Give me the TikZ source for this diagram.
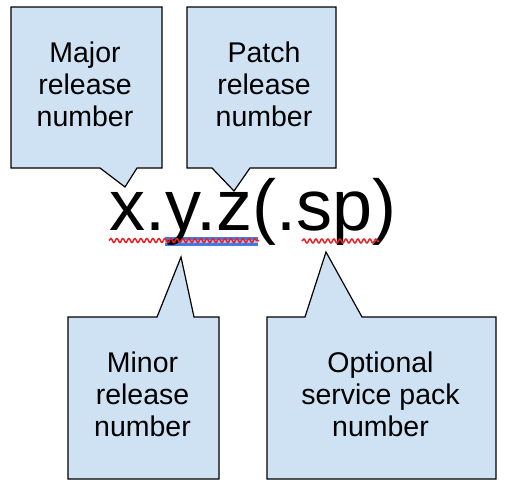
\documentclass[tikz,border=0pt]{standalone}
\usepackage{fontspec}
\setmainfont{Liberation Sans}
\usetikzlibrary{decorations.pathmorphing}
\definecolor{calloutfill}{RGB}{207,226,243}
\definecolor{wavered}{RGB}{235,32,38}
\definecolor{selblue}{RGB}{66,124,226}
\definecolor{sellight}{RGB}{160,190,240}
\tikzset{
  callout/.style={draw=black, fill=calloutfill, line width=1.2pt, line join=miter},
  calltext/.style={align=center, inner sep=0pt, font=\fontsize{28.5}{32}\selectfont},
  bigtext/.style={inner sep=0pt, anchor=base west, font=\fontsize{72}{80}\selectfont},
  spell/.style={draw=wavered, line width=1.5pt, decorate,
    decoration={snake, segment length=6pt, amplitude=2pt}}
}
\begin{document}
\begin{tikzpicture}[x=1pt,y=-1pt]
\useasboundingbox (0,0) rectangle (514,490);
% callout shapes
\draw[callout] (11,7) -- (162,7) -- (162,168) -- (137,168) -- (125,187) -- (100,168) -- (11,168) -- cycle;
\draw[callout] (187,7) -- (336,7) -- (336,168) -- (250,168) -- (234,191) -- (212,168) -- (187,168) -- cycle;
\draw[callout] (68,317) -- (157,317) -- (181,257) -- (194,317) -- (219,317) -- (219,479) -- (68,479) -- cycle;
\draw[callout] (267,317) -- (305,317) -- (326,252) -- (362,317) -- (496,317) -- (496,479) -- (267,479) -- cycle;
% callout texts
\node[calltext] (major) at (85,84) {Major\\release\\number};
\node[calltext] (patch) at (264,84) {Patch\\release\\number};
\node[calltext] (minor) at (142.5,394.5) {Minor\\release\\number};
\node[calltext] (optional) at (380.5,394.5) {Optional\\service pack\\number};
% selection band and spelling marks
\fill[selblue] (165,237) rectangle (258,246);
\fill[sellight] (165,240.3) rectangle (258,242.7);
\node[bigtext] (version) at (109.5,230) {x.y.z(.sp)};
\coordinate (w1a) at (109,240.5);
\coordinate (w1b) at (259,240.5);
\coordinate (w2a) at (302,241);
\coordinate (w2b) at (379,241);
\draw[spell] (w1a) -- (w1b);
\draw[spell] (w2a) -- (w2b);
\end{tikzpicture}
\end{document}
